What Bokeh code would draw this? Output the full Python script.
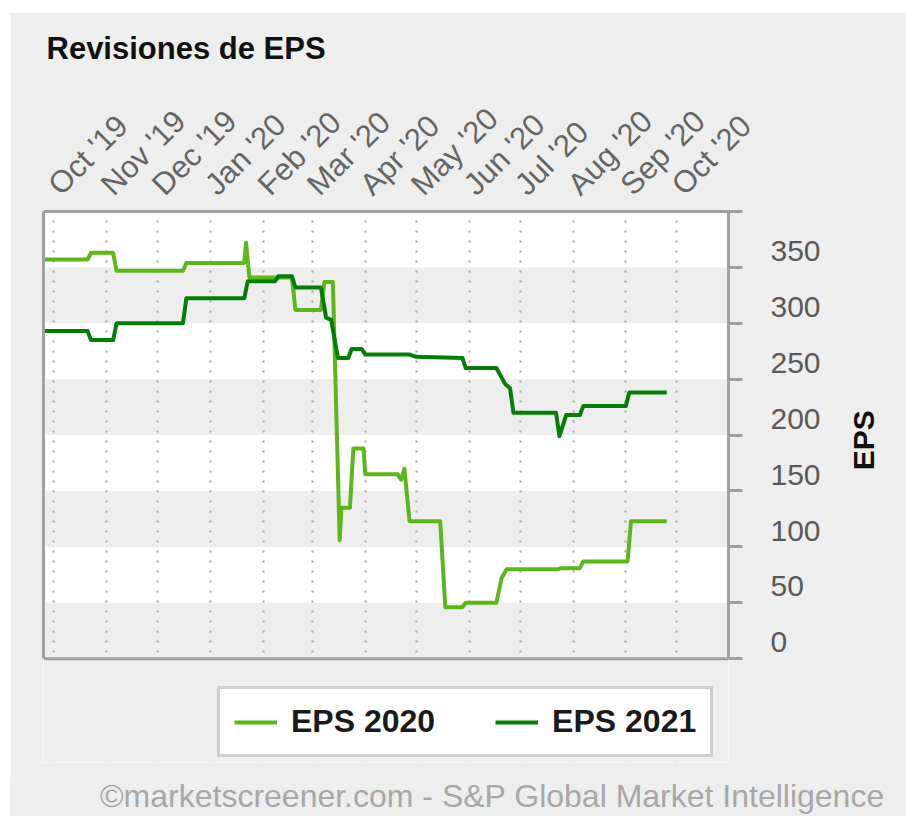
import pandas as pd
from math import pi
from bokeh.plotting import figure
from bokeh.layouts import column
from bokeh.models import (Range1d, LinearAxis, FixedTicker, DatetimeTickFormatter,
                          Legend, LegendItem, Title, ColumnDataSource, BoxAnnotation,
                          Span, Div)
from bokeh.embed import file_html
from bokeh.resources import INLINE

# ---------------- data ----------------
TITLE = "Revisiones de EPS"
FOOTER = "©marketscreener.com - S&P Global Market Intelligence"
Y_TITLE = "EPS"
SERIES_NAMES = ["EPS 2020", "EPS 2021"]

eps2020_dates = ["2019-09-25", "2019-10-21", "2019-10-23", "2019-11-05", "2019-11-07",
                 "2019-12-16", "2019-12-18", "2020-01-21", "2020-01-22", "2020-01-24",
                 "2020-02-18", "2020-02-20", "2020-03-06", "2020-03-08", "2020-03-13",
                 "2020-03-17", "2020-03-18", "2020-03-23", "2020-03-25", "2020-03-31",
                 "2020-04-01", "2020-04-20", "2020-04-22", "2020-04-24", "2020-04-27",
                 "2020-05-15", "2020-05-18", "2020-05-28", "2020-05-30", "2020-06-17",
                 "2020-06-20", "2020-06-23", "2020-07-23", "2020-07-25", "2020-08-05",
                 "2020-08-07", "2020-09-02", "2020-09-04", "2020-09-25"]
eps2020_values = [357, 357, 363, 363, 347,
                  347, 354, 354, 372, 341,
                  341, 312, 312, 337, 337,
                  106, 135, 135, 188, 188,
                  165, 165, 160, 170, 123,
                  123, 46, 46, 50, 50,
                  72, 80, 80, 81, 81,
                  87, 87, 123, 123]

eps2021_dates = ["2019-09-25", "2019-10-21", "2019-10-23", "2019-11-05", "2019-11-07",
                 "2019-12-16", "2019-12-18", "2020-01-21", "2020-01-23", "2020-02-08",
                 "2020-02-10", "2020-02-18", "2020-02-20", "2020-03-06", "2020-03-09",
                 "2020-03-12", "2020-03-16", "2020-03-22", "2020-03-24", "2020-03-30",
                 "2020-04-01", "2020-04-27", "2020-05-01", "2020-05-28", "2020-05-30",
                 "2020-06-17", "2020-06-22", "2020-06-25", "2020-06-27", "2020-07-22",
                 "2020-07-24", "2020-07-28", "2020-08-05", "2020-08-07", "2020-09-01",
                 "2020-09-03", "2020-09-25"]
eps2021_values = [293, 293, 285, 285, 300,
                  300, 322.5, 322.5, 337.5, 337.5,
                  342, 342, 332, 332, 305,
                  303, 269, 269, 277, 277,
                  272, 272, 270, 269, 260,
                  260, 246, 242, 220, 220,
                  199, 218, 218, 226, 226,
                  238, 238]

month_ticks = ["2019-10-01", "2019-11-01", "2019-12-01", "2020-01-01", "2020-02-01",
               "2020-03-01", "2020-04-01", "2020-05-01", "2020-06-01", "2020-07-01",
               "2020-08-01", "2020-09-01", "2020-10-01"]
y_band_ticks = [0, 50, 100, 150, 200, 250, 300, 350, 400]
y_label_ticks = [0, 50, 100, 150, 200, 250, 300, 350]

# ---------------- layout constants ----------------
FONT = "Liberation Sans"
C2020 = "#5cb81a"
C2021 = "#067d06"
BG = "#eeeeee"
FRAME_GRAY = "#a0a0a0"

ML, MT = 10, 12                  # white page strip left / top
FOOT_H = 38                      # footer strip height
W, H = 906 - ML, 816 - MT - FOOT_H
FRAME_L, FRAME_T, FRAME_R = 43, 210, 728   # page pixels
PLOT_B = 658                     # page pixel of y = 0 (bottom of the plot box)
FRAME_B = 762                    # frame continues below to host the legend
Y0, Y1 = 0, 400
X0 = pd.Timestamp("2019-09-25 03:00").value / 1e6
X1 = pd.Timestamp("2020-10-31 06:00").value / 1e6
LABEL_SHIFT = 14.6  # y units: tick labels sit above their band boundary


def ms(s):
    return pd.Timestamp(s).value / 1e6


def px2y(py):
    return Y0 + (PLOT_B - py) / (PLOT_B - FRAME_T) * (Y1 - Y0)


YLOW = px2y(FRAME_B)

p = figure(width=W, height=H, output_backend="svg", toolbar_location=None,
           x_axis_type="datetime", x_axis_location="above", y_axis_location=None,
           x_range=Range1d(X0, X1), y_range=Range1d(YLOW, Y1), title=None,
           min_border_left=FRAME_L - ML, min_border_top=FRAME_T - MT,
           min_border_right=W - (FRAME_R - ML), min_border_bottom=H - (FRAME_B - MT))
p.margin = (MT, 0, 0, ML)
p.background_fill_color = "white"
p.border_fill_color = BG
p.outline_line_color = None

# x axis (top) - its line is the top border of the plot box
xt = FixedTicker(ticks=[ms(d) for d in month_ticks])
fmt = "%b '%y"
p.xaxis.ticker = xt
p.xaxis.formatter = DatetimeTickFormatter(days=fmt, months=fmt, years=fmt, hours=fmt,
                                          hourmin=fmt, minutes=fmt, minsec=fmt,
                                          seconds=fmt, milliseconds=fmt, microseconds=fmt)
p.xaxis.major_label_orientation = pi / 4
p.xaxis.major_label_text_font = FONT
p.xaxis.major_label_text_font_size = "31px"
p.xaxis.major_label_text_color = "#666666"
p.xaxis.major_label_standoff = 22
p.xaxis.axis_line_color = FRAME_GRAY
p.xaxis.axis_line_width = 3
p.xaxis.major_tick_out = 0
p.xaxis.major_tick_in = 0
p.xaxis.minor_tick_out = 0
p.xaxis.minor_tick_in = 0

# grids: grey bands on white, dotted month lines
p.xgrid.ticker = xt
p.xgrid.grid_line_color = "#a8a8a8"
p.xgrid.grid_line_dash = "2 8"
p.xgrid.grid_line_width = 2
p.ygrid.ticker = FixedTicker(ticks=y_band_ticks)
p.ygrid.grid_line_color = None
p.ygrid.band_fill_color = BG
p.ygrid.band_fill_alpha = 1
p.ygrid.level = "image"
# grey area under the plot box (hides grid there)
p.add_layout(BoxAnnotation(top=Y0, fill_color=BG, fill_alpha=1, line_color=None,
                           level="underlay"))
# bottom border of the plot box
p.add_layout(Span(location=Y0, dimension="width", line_color=FRAME_GRAY, line_width=3))

# left border of the plot box
axl = LinearAxis(ticker=FixedTicker(ticks=[]), bounds=(Y0, Y1))
axl.axis_line_color = FRAME_GRAY
axl.axis_line_width = 3
axl.major_tick_out = 0
axl.major_tick_in = 0
axl.minor_tick_out = 0
axl.minor_tick_in = 0
p.add_layout(axl, "left")

# right axis: labels shifted upward; tick marks (minor) at band boundaries
p.extra_y_ranges = {"lab": Range1d(YLOW - LABEL_SHIFT, Y1 - LABEL_SHIFT)}
la = LinearAxis(y_range_name="lab", bounds=(Y0 - LABEL_SHIFT, Y1 - LABEL_SHIFT),
                ticker=FixedTicker(ticks=y_label_ticks,
                                   minor_ticks=[v - LABEL_SHIFT for v in y_band_ticks]))
la.major_tick_out = 0
la.major_tick_in = 0
la.minor_tick_out = 14
la.minor_tick_in = 0
la.minor_tick_line_color = FRAME_GRAY
la.minor_tick_line_width = 3
la.axis_line_color = FRAME_GRAY
la.axis_line_width = 3
la.major_label_standoff = 28
la.major_label_text_font = FONT
la.major_label_text_font_size = "30px"
la.major_label_text_color = "#5a5a5a"
la.axis_label = "\u00a0\u00a0" + Y_TITLE
la.axis_label_standoff = 40
la.axis_label_text_font = FONT
la.axis_label_text_font_size = "30px"
la.axis_label_text_font_style = "bold"
la.axis_label_text_color = "#111111"
la.axis_label_orientation = pi / 2
p.add_layout(la, "right")

# series
s20 = ColumnDataSource(dict(x=pd.to_datetime(eps2020_dates), y=eps2020_values))
s21 = ColumnDataSource(dict(x=pd.to_datetime(eps2021_dates), y=eps2021_values))
r1 = p.line("x", "y", source=s20, line_color=C2020, line_width=4, line_join="round")
r2 = p.line("x", "y", source=s21, line_color=C2021, line_width=4, line_join="round")

# title (top)
p.add_layout(Title(text=TITLE, align="left", offset=3, vertical_align="top", standoff=36,
                   text_font=FONT, text_font_size="31px", text_font_style="bold",
                   text_color="#111111"), "above")

# legend (inside the lower part of the frame, under the plot box)
legend = Legend(items=[LegendItem(label=SERIES_NAMES[0], renderers=[r1]),
                       LegendItem(label=SERIES_NAMES[1], renderers=[r2])],
                location=(217 - FRAME_L, FRAME_B - 757), orientation="horizontal",
                padding=14, spacing=60, glyph_width=43, label_standoff=14,
                label_text_font=FONT, label_text_font_size="32px",
                label_text_font_style="bold", label_text_color="#1a1a1a",
                background_fill_color="white", background_fill_alpha=1,
                border_line_color=FRAME_GRAY, border_line_width=3)
p.add_layout(legend)

# footer strip
foot = Div(text=FOOTER, render_as_text=True, width=W, height=FOOT_H, margin=(0, 0, 0, ML),
           styles={"background-color": BG, "font-family": FONT, "font-size": "32px",
                   "color": "#a8a8a8", "line-height": "36px", "text-indent": "90px",
                   "white-space": "nowrap"})

page = column(p, foot, spacing=0)
open("out.html", "w").write(file_html(page, INLINE))
